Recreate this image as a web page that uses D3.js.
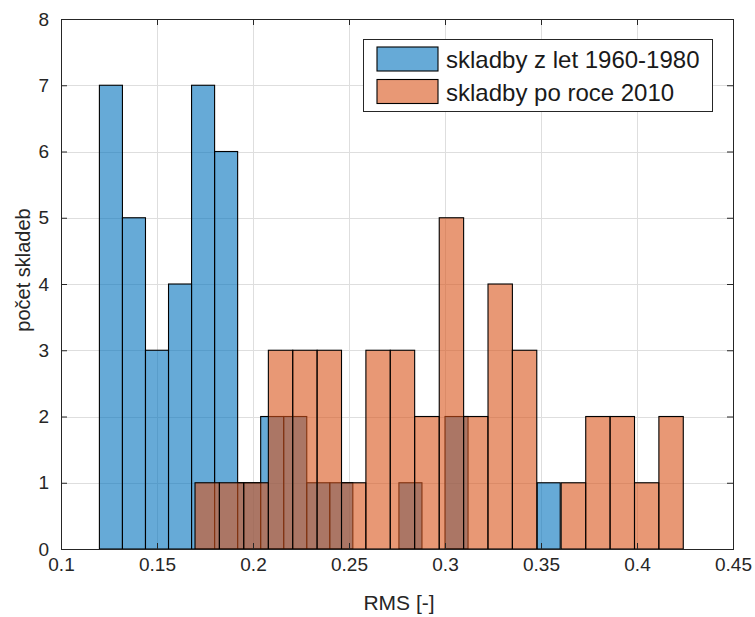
<!DOCTYPE html>
<html>
<head>
<meta charset="utf-8">
<script src="https://cdn.jsdelivr.net/npm/d3@7"></script>
<style>
  body { margin: 0; background: #fff; }
  text { font-family: "Liberation Sans", Arial, sans-serif; }
</style>
</head>
<body>
<svg id="chart" width="755" height="617"></svg>
<script>
// bin edges and counts
const oldEdges = [0.12, 0.132, 0.144, 0.156, 0.168, 0.18, 0.192, 0.204, 0.216, 0.228, 0.24,
  0.252, 0.264, 0.276, 0.288, 0.30, 0.312, 0.324, 0.336, 0.348, 0.36];
const oldCounts = [7, 5, 3, 4, 7, 6, 1, 2, 2, 1, 1, 0, 0, 1, 0, 2, 0, 0, 0, 1];

const newEdges = [0.1698, 0.1825, 0.1952, 0.2080, 0.2207, 0.2334, 0.2461, 0.2588, 0.2715,
  0.2842, 0.2970, 0.3097, 0.3224, 0.3351, 0.3478, 0.3605, 0.3733, 0.3860, 0.3987, 0.4114, 0.4241];
const newCounts = [1, 1, 1, 3, 3, 3, 1, 3, 3, 2, 5, 2, 4, 3, 0, 1, 2, 2, 1, 2];

const seriesNames = ["skladby z let 1960-1980", "skladby po roce 2010"];
const xTicks = [0.1, 0.15, 0.2, 0.25, 0.3, 0.35, 0.4, 0.45];
const yTicks = [0, 1, 2, 3, 4, 5, 6, 7, 8];
const xLabel = "RMS [-]";
const yLabel = "počet skladeb";

const colors = ["#0072BD", "#D95319"];
const axisColor = "#262626";

const svg = d3.select("#chart");
const m = { left: 61, right: 733, top: 19, bottom: 549 };

const x = d3.scaleLinear().domain([0.1, 0.45]).range([m.left, m.right]);
const y = d3.scaleLinear().domain([0, 8]).range([m.bottom, m.top]);

// grid
const grid = svg.append("g").attr("stroke", "#dedede").attr("stroke-width", 1);
grid.selectAll(".gx").data(xTicks).enter().append("line")
  .attr("x1", d => Math.round(x(d)) + 0.5).attr("x2", d => Math.round(x(d)) + 0.5)
  .attr("y1", m.top).attr("y2", m.bottom);
grid.selectAll(".gy").data(yTicks).enter().append("line")
  .attr("y1", d => Math.round(y(d)) + 0.5).attr("y2", d => Math.round(y(d)) + 0.5)
  .attr("x1", m.left).attr("x2", m.right);

// histograms
function bins(edges, counts) {
  return counts.map((c, i) => ({ x0: edges[i], x1: edges[i + 1], n: c })).filter(d => d.n > 0);
}

[[oldEdges, oldCounts], [newEdges, newCounts]].forEach(([edges, counts], k) => {
  svg.append("g").selectAll("rect")
    .data(bins(edges, counts))
    .enter()
    .append("rect")
    .attr("x", d => x(d.x0))
    .attr("width", d => x(d.x1) - x(d.x0))
    .attr("y", d => y(d.n))
    .attr("height", d => y(0) - y(d.n))
    .attr("fill", colors[k])
    .attr("fill-opacity", 0.6)
    .attr("stroke", "#000")
    .attr("stroke-width", 1.1);
});

// axes (ticks inside, on all four sides like matlab box on)
const fontSize = 19;
svg.append("g").attr("transform", `translate(0,${m.bottom})`)
  .call(d3.axisBottom(x).tickValues(xTicks).tickFormat(d => d3.format("")(d))
    .tickSizeInner(-6).tickSizeOuter(0).tickPadding(9));
svg.append("g").attr("transform", `translate(${m.left},0)`)
  .call(d3.axisLeft(y).tickValues(yTicks).tickFormat(d3.format("d"))
    .tickSizeInner(-6).tickSizeOuter(0).tickPadding(12));
svg.append("g").attr("transform", `translate(0,${m.top})`)
  .call(d3.axisTop(x).tickValues(xTicks).tickFormat("").tickSizeInner(-6).tickSizeOuter(0));
svg.append("g").attr("transform", `translate(${m.right},0)`)
  .call(d3.axisRight(y).tickValues(yTicks).tickFormat("").tickSizeInner(-6).tickSizeOuter(0));

svg.selectAll(".domain").remove();
svg.selectAll(".tick line").attr("stroke", axisColor);
svg.selectAll(".tick text").attr("fill", axisColor).attr("font-size", fontSize)
  .attr("font-family", "Liberation Sans, Arial, sans-serif");

svg.append("rect")
  .attr("x", m.left + 0.5).attr("y", m.top + 0.5)
  .attr("width", m.right - m.left).attr("height", m.bottom - m.top)
  .attr("fill", "none").attr("stroke", axisColor).attr("stroke-width", 1);

// axis labels
svg.append("text")
  .attr("x", 399).attr("y", 610)
  .attr("text-anchor", "middle").attr("font-size", 21).attr("fill", axisColor)
  .text(xLabel);
svg.append("text")
  .attr("transform", `translate(30,270) rotate(-90)`)
  .attr("text-anchor", "middle").attr("font-size", 20).attr("fill", axisColor)
  .text(yLabel);

// legend
const legend = svg.append("g");
legend.append("rect")
  .attr("x", 363.5).attr("y", 39.5).attr("width", 349).attr("height", 72)
  .attr("fill", "#fff").attr("stroke", axisColor).attr("stroke-width", 1);
seriesNames.forEach((name, i) => {
  legend.append("rect")
    .attr("x", 377).attr("y", 47 + i * 32.5).attr("width", 61).attr("height", 24)
    .attr("fill", colors[i]).attr("fill-opacity", 0.6)
    .attr("stroke", "#000").attr("stroke-width", 1.1);
  legend.append("text")
    .attr("x", 446).attr("y", 68 + i * 32.5)
    .attr("font-size", 24).attr("fill", "#1a1a1a")
    .text(name);
});
</script>
</body>
</html>
